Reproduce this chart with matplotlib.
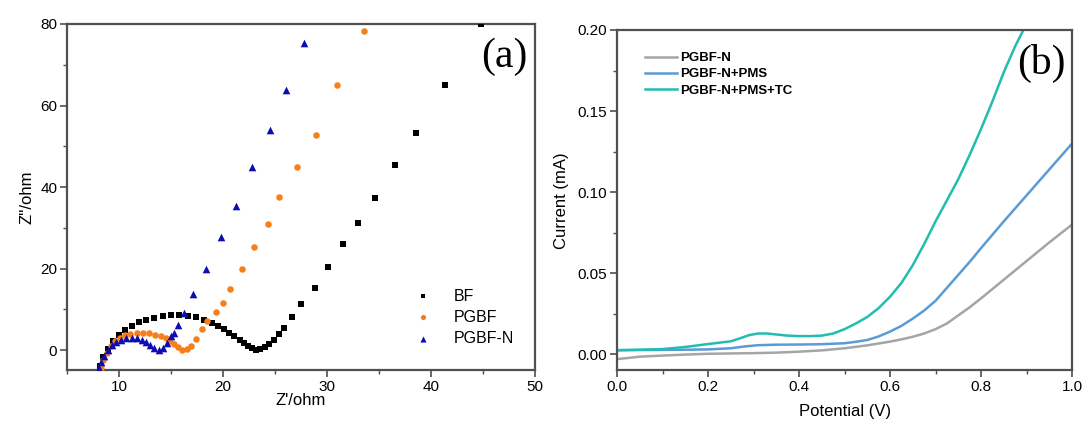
import matplotlib
matplotlib.use("Agg")
import matplotlib.pyplot as plt
from matplotlib.ticker import MultipleLocator

# ---------------- Panel (a): Nyquist data ----------------
bf_x = [8.2, 8.5, 8.9, 9.4, 10.0, 10.6, 11.2, 11.9, 12.6, 13.4, 14.2, 15.0, 15.8, 16.6,
        17.4, 18.2, 18.9, 19.5, 20.1, 20.6, 21.1, 21.6, 22.0, 22.4, 22.8, 23.2, 23.6,
        24.0, 24.4, 24.9, 25.4, 25.9, 26.6, 27.5, 28.8, 30.1, 31.5, 33.0, 34.6, 36.5,
        38.6, 41.3, 44.8]
bf_y = [-4.0, -1.8, 0.3, 2.2, 3.8, 5.0, 6.0, 6.8, 7.4, 7.9, 8.3, 8.5, 8.6, 8.4,
        8.0, 7.4, 6.7, 5.9, 5.1, 4.3, 3.4, 2.5, 1.7, 1.0, 0.4, 0.1, 0.2,
        0.7, 1.5, 2.6, 3.9, 5.4, 8.0, 11.3, 15.3, 20.4, 26.0, 31.2, 37.4, 45.4,
        53.2, 65.0, 80.0]

pgbf_x = [8.3, 8.5, 8.8, 9.2, 9.6, 10.1, 10.6, 11.1, 11.7, 12.3, 12.9, 13.5, 14.0, 14.5,
          14.9, 15.3, 15.7, 16.1, 16.5, 16.9, 17.4, 18.0, 18.5, 19.3, 20.0, 20.7, 21.8,
          23.0, 24.3, 25.4, 27.1, 28.9, 31.0, 33.6]
pgbf_y = [-4.5, -2.5, -0.6, 1.0, 2.2, 3.0, 3.6, 3.9, 4.1, 4.2, 4.1, 3.8, 3.4, 2.9,
          2.3, 1.5, 0.7, 0.1, 0.2, 1.0, 2.8, 5.1, 7.1, 9.4, 11.5, 14.9, 19.8,
          25.2, 30.9, 37.5, 45.0, 52.8, 65.0, 78.3]

pgbfn_x = [8.1, 8.3, 8.6, 8.9, 9.3, 9.7, 10.2, 10.7, 11.2, 11.7, 12.2, 12.6, 13.0,
           13.4, 13.8, 14.2, 14.6, 15.0, 15.3, 15.7, 16.2, 17.1, 18.4, 19.8, 21.2,
           22.8, 24.5, 26.1, 27.8]
pgbfn_y = [-4.5, -3.0, -1.4, 0.0, 1.2, 2.0, 2.6, 2.9, 3.0, 2.9, 2.6, 2.0, 1.3,
           0.5, 0.0, 0.5, 1.8, 3.4, 4.1, 6.1, 9.0, 13.7, 20.0, 27.8, 35.3,
           45.0, 54.0, 63.8, 75.3]

# ---------------- Panel (b): LSV data ----------------
pot_n = [0.00, 0.05, 0.10, 0.15, 0.20, 0.25, 0.30, 0.35, 0.40, 0.45, 0.50, 0.55,
         0.60, 0.625, 0.65, 0.675, 0.70, 0.725, 0.75, 0.775, 0.80, 0.85, 0.90,
         0.95, 1.00]
cur_n = [-0.0030, -0.0015, -0.0008, -0.0002, 0.0003, 0.0005, 0.0007, 0.0010, 0.0016,
         0.0024, 0.0037, 0.0055, 0.0078, 0.0092, 0.0108, 0.0128, 0.0155, 0.0190,
         0.0240, 0.0290, 0.0345, 0.0460, 0.0575, 0.0690, 0.0800]

pot_pms = [0.00, 0.05, 0.10, 0.15, 0.20, 0.25, 0.28, 0.31, 0.35, 0.40, 0.45, 0.50,
           0.525, 0.55, 0.575, 0.60, 0.625, 0.65, 0.675, 0.70, 0.725, 0.75, 0.775,
           0.80, 0.85, 0.90, 0.95, 1.00]
cur_pms = [0.0025, 0.0026, 0.0027, 0.0028, 0.0030, 0.0037, 0.0048, 0.0056, 0.0059,
           0.0060, 0.0062, 0.0068, 0.0077, 0.0088, 0.0110, 0.0140, 0.0175, 0.0220,
           0.0270, 0.0330, 0.0410, 0.0490, 0.0570, 0.0655, 0.0820, 0.0980, 0.1140,
           0.1300]

pot_tc = [0.00, 0.05, 0.10, 0.15, 0.20, 0.25, 0.27, 0.29, 0.31, 0.33, 0.35, 0.375,
          0.40, 0.425, 0.45, 0.475, 0.50, 0.525, 0.55, 0.575, 0.60, 0.625, 0.65,
          0.675, 0.70, 0.725, 0.75, 0.775, 0.80, 0.825, 0.85, 0.875, 0.893]
cur_tc = [0.0025, 0.0028, 0.0032, 0.0045, 0.0063, 0.0080, 0.0098, 0.0118, 0.0128,
          0.0128, 0.0122, 0.0115, 0.0112, 0.0112, 0.0115, 0.0128, 0.0155, 0.0190,
          0.0230, 0.0285, 0.0355, 0.0440, 0.0550, 0.0680, 0.0820, 0.0950, 0.1080,
          0.1230, 0.1390, 0.1560, 0.1740, 0.1900, 0.2000]

labels_a = ["BF", "PGBF", "PGBF-N"]
labels_b = ["PGBF-N", "PGBF-N+PMS", "PGBF-N+PMS+TC"]

plt.rcParams['font.family'] = ['Liberation Sans', 'DejaVu Sans']

fig = plt.figure(figsize=(10.85, 4.21), dpi=100)
ax1 = fig.add_axes([0.0618, 0.12, 0.4313, 0.823])
ax2 = fig.add_axes([0.5687, 0.12, 0.4194, 0.8088])

spine_col = "#505050"
for ax in (ax1, ax2):
    for s in ax.spines.values():
        s.set_color(spine_col)
        s.set_linewidth(1.6)
    ax.tick_params(which='major', direction='out', length=5, width=1.2,
                   color=spine_col, labelsize=11, pad=2)
    ax.tick_params(which='minor', direction='out', length=3, width=1.0,
                   color=spine_col)
    ax.tick_params(top=False, right=False, which='both')

# Panel (a)
ax1.scatter(bf_x, bf_y, marker='s', s=18, color='#000000', label=labels_a[0],
            zorder=3, linewidths=0)
ax1.scatter(pgbf_x, pgbf_y, marker='o', s=22, color='#f77f1b', label=labels_a[1],
            zorder=3, linewidths=0)
ax1.scatter(pgbfn_x, pgbfn_y, marker='^', s=30, color='#0c0cb0', label=labels_a[2],
            zorder=4, linewidths=0)
ax1.set_xlim(5, 50)
ax1.set_ylim(-5, 80)
ax1.xaxis.set_major_locator(MultipleLocator(10))
ax1.xaxis.set_minor_locator(MultipleLocator(5))
ax1.yaxis.set_major_locator(MultipleLocator(20))
ax1.yaxis.set_minor_locator(MultipleLocator(10))
ax1.set_xlabel("Z'/ohm", fontsize=12, labelpad=-1)
ax1.set_ylabel("Z''/ohm", fontsize=12, labelpad=4)
ax1.legend(loc='lower right', bbox_to_anchor=(0.985, 0.03), frameon=False,
           fontsize=11.5, handletextpad=0.9, labelspacing=0.38, markerscale=0.8)
ax1.text(0.985, 0.96, "(a)", transform=ax1.transAxes, ha='right', va='top',
         fontsize=30, family=['Liberation Serif', 'DejaVu Serif'])

# Panel (b)
ax2.plot(pot_n, cur_n, color='#a5a5a5', lw=1.8, label=labels_b[0])
ax2.plot(pot_pms, cur_pms, color='#5b9bd5', lw=1.8, label=labels_b[1])
ax2.plot(pot_tc, cur_tc, color='#22bdb0', lw=1.8, label=labels_b[2])
ax2.set_xlim(0, 1.0)
ax2.set_ylim(-0.01, 0.20)
ax2.xaxis.set_major_locator(MultipleLocator(0.2))
ax2.xaxis.set_minor_locator(MultipleLocator(0.1))
ax2.yaxis.set_major_locator(MultipleLocator(0.05))
ax2.yaxis.set_minor_locator(MultipleLocator(0.025))
ax2.xaxis.set_major_formatter(plt.FuncFormatter(lambda v, p: f"{v:.1f}"))
ax2.yaxis.set_major_formatter(plt.FuncFormatter(lambda v, p: f"{v:.2f}"))
ax2.set_xlabel("Potential (V)", fontsize=12, labelpad=7)
ax2.set_ylabel("Current (mA)", fontsize=12, labelpad=6)
ax2.legend(loc='upper left', bbox_to_anchor=(0.035, 0.97), frameon=False,
           handlelength=2.4, handletextpad=0.3, labelspacing=0.3,
           prop={'weight': 'bold', 'size': 9.5})
ax2.text(0.985, 0.96, "(b)", transform=ax2.transAxes, ha='right', va='top',
         fontsize=30, family=['Liberation Serif', 'DejaVu Serif'])

fig.savefig("out.png", dpi=100)
